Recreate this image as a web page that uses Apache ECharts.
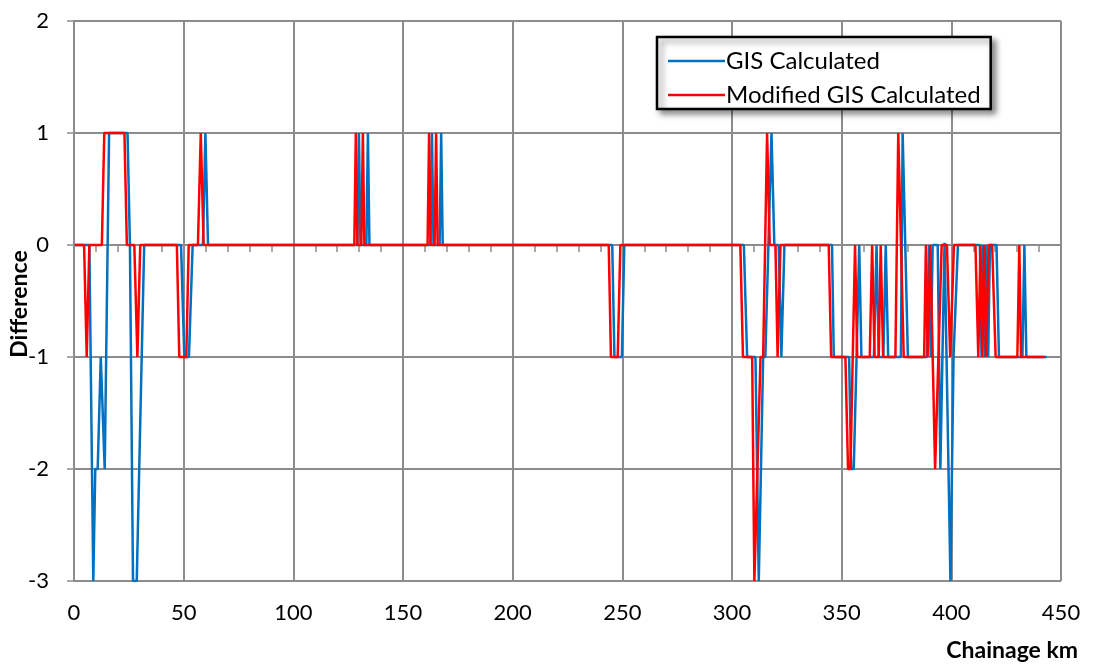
<!DOCTYPE html>
<html>
<head>
<meta charset="utf-8">
<script src="https://cdn.jsdelivr.net/npm/echarts@6/dist/echarts.min.js"></script>
<style>
  html, body { margin: 0; padding: 0; background: #fff; }
  #chart { width: 1093px; height: 664px; }
</style>
</head>
<body>
<div id="chart"></div>
<script>
// chainage (km) and difference for each series
const gisKm = [
  0.4, 7.0, 8.8, 9.7, 10.8, 12.2, 12.8, 14.0, 14.7, 16.0, 24.4, 25.5, 26.9, 28.6, 32.0,
  48.8, 50.3, 52.4, 54.1, 58.8, 59.9, 61.1,
  129.2, 129.9, 130.6, 133.3, 134.0, 134.7,
  162.5, 163.2, 163.9, 166.7, 167.4, 168.1,
  245.4, 246.4, 249.8, 250.9,
  305.4, 306.9, 310.7, 312.2, 312.8, 314.2, 315.2, 318.0, 319.3, 321.3, 322.5, 323.9,
  345.6, 346.4, 353.4, 354.3, 355.5, 356.8, 358.0, 359.0, 364.7, 365.9, 366.9, 369.0, 370.1, 371.2,
  377.0, 377.8, 378.3, 380.2,
  388.9, 389.8, 390.6, 391.5, 393.8, 395.0, 395.3, 396.9, 399.6, 401.0, 401.9, 403.0,
  413.0, 413.8, 414.5, 415.2, 416.0, 416.8, 417.6, 420.6, 421.7, 432.4, 433.3, 434.2, 443.5
]
const gisDiff = [
  0, 0, -3, -2, -2, -1, -1, -2, -2, 1, 1, 0, -3, -3, 0,
  0, -1, -1, 0, 0, 1, 0,
  0, 1, 0, 0, 1, 0,
  0, 1, 0, 0, 1, 0,
  0, -1, -1, 0,
  0, -1, -1, -3, -3, -1, -1, 1, 0, 0, -1, 0,
  0, -1, -1, -2, -2, -1, 0, -1, -1, 0, -1, -1, 0, -1,
  -1, 1, 1, -1,
  -1, 0, -1, 0, 0, -2, -2, 0.02, -3, -1, -1, 0,
  0, -1, 0, -1, 0, -1, 0, 0, -1, -1, 0, -1, -1
]

const modKm = [
  0.4, 4.6, 5.8, 7.0, 12.7, 13.8, 23.0, 24.1, 27.5, 28.9, 30.2,
  46.9, 48.0, 51.2, 52.3, 56.5, 57.8, 59.1,
  127.8, 128.5, 129.2, 131.0, 131.7, 132.4,
  161.2, 161.9, 162.6, 164.4, 165.1, 165.8,
  243.8, 244.8, 247.9, 249.1,
  303.8, 305.0, 309.2, 310.2, 310.8, 313.0, 314.2, 316.0, 317.2, 319.8, 320.8, 322.1,
  344.1, 345.2, 351.7, 352.9, 354.0, 356.1, 357.1, 362.8, 363.9, 365.0, 366.9, 367.8, 368.9,
  374.5, 375.8, 376.5, 378.3,
  387.6, 388.4, 389.2, 390.4, 391.3, 392.6, 393.4, 395.6, 398.0, 399.5, 401.2,
  411.0, 412.3, 413.3, 414.1, 415.0, 415.8, 417.1, 418.6, 420.2, 430.1, 431.0, 431.8, 442.5
]
const modDiff = [
  0, 0, -1, 0, 0, 1, 1, 0, 0, -1, 0,
  0, -1, -1, 0, 0, 1, 0,
  0, 1, 0, 0, 1, 0,
  0, 1, 0, 0, 1, 0,
  0, -1, -1, 0,
  0, -1, -1, -3, -3, -1, -1, 1, 0, 0, -1, 0,
  0, -1, -1, -2, -2, 0, -1, -1, 0, -1, -1, 0, -1,
  -1, 1, 1, -1,
  -1, 0, -1, 0, 0, -2, -2, 0, 0, -1, 0,
  0, -1, 0, -1, 0, -1, 0, 0, -1, -1, 0, -1, -1
]

const seriesNames = ['GIS Calculated', 'Modified GIS Calculated']
const seriesColors = ['#0070C0', '#FF0000']

const pairs = (xs, ys) => xs.map((x, i) => [x, ys[i]])

const font = 'Lato, "Open Sans", sans-serif'
const gridColor = '#8c8c8c'

let myChart = echarts.init(document.getElementById('chart'))
myChart.setOption({
  animation: false,
  textStyle: { fontFamily: font },
  grid: { left: 74, right: 32, top: 21, bottom: 83, outerBoundsMode: 'none' },
  title: {
    text: 'Chainage km',
    right: 10,
    top: 634,
    textStyle: { fontFamily: font, fontSize: 23, fontWeight: 'bold', color: '#000' }
  },
  // y axis title, placed by hand so it does not get pushed off the page
  graphic: [{
    type: 'text',
    x: 20,
    y: 304,
    rotation: Math.PI / 2,
    style: {
      text: 'Difference',
      font: 'bold 23px ' + font,
      fill: '#000',
      align: 'center',
      verticalAlign: 'middle'
    }
  }],
  legend: {
    data: seriesNames,
    orient: 'vertical',
    left: 657,
    top: 37,
    icon: 'rect',
    itemWidth: 57,
    itemHeight: 2.5,
    itemGap: 10,
    padding: [12, 10, 2, 11],
    backgroundColor: '#fff',
    borderColor: '#000',
    borderWidth: 2.5,
    shadowColor: 'rgba(0,0,0,0.45)',
    shadowBlur: 6,
    shadowOffsetX: 4,
    shadowOffsetY: 4,
    textStyle: { fontFamily: font, fontSize: 24, color: '#000', padding: [0, 0, 0, -4] }
  },
  xAxis: {
    type: 'value',
    min: 0,
    max: 450,
    interval: 50,
    axisLine: { lineStyle: { color: gridColor, width: 2 } },
    axisTick: { show: true, length: 7, lineStyle: { color: gridColor, width: 1.5 } },
    minorTick: { show: true, splitNumber: 5, length: 7, lineStyle: { color: gridColor, width: 1.5 } },
    axisLabel: { color: '#000', fontSize: 22, margin: 21 },
    splitLine: { show: true, lineStyle: { color: gridColor, width: 2 } }
  },
  yAxis: {
    type: 'value',
    min: -3,
    max: 2,
    interval: 1,
    axisLine: { show: true, lineStyle: { color: gridColor, width: 2 } },
    axisTick: { show: true, length: 7, lineStyle: { color: gridColor, width: 1.5 } },
    axisLabel: { color: '#000', fontSize: 22, margin: 25 },
    splitLine: { show: true, lineStyle: { color: gridColor, width: 2 } }
  },
  series: [
    {
      name: seriesNames[0],
      type: 'line',
      symbol: 'none',
      color: seriesColors[0],
      lineStyle: { color: seriesColors[0], width: 2.5 },
      data: pairs(gisKm, gisDiff)
    },
    {
      name: seriesNames[1],
      type: 'line',
      symbol: 'none',
      color: seriesColors[1],
      lineStyle: { color: seriesColors[1], width: 2.5 },
      data: pairs(modKm, modDiff)
    }
  ]
})
</script>
</body>
</html>
